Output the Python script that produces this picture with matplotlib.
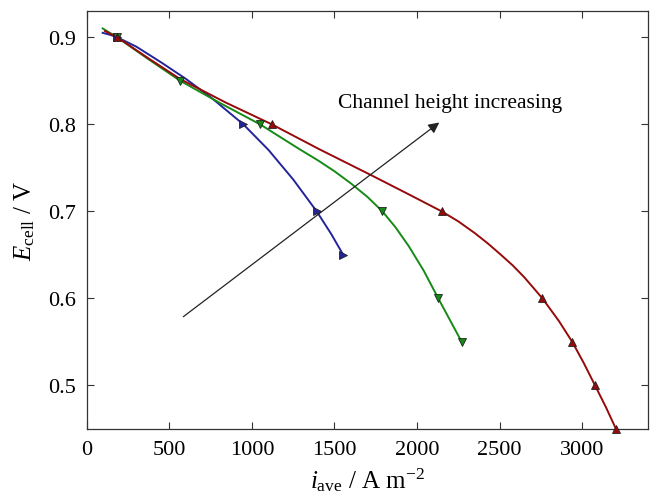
import matplotlib
matplotlib.use("Agg")
import matplotlib.pyplot as plt

plt.rcParams['font.family'] = ['Liberation Serif', 'DejaVu Serif']
plt.rcParams['mathtext.fontset'] = 'custom'
plt.rcParams['mathtext.rm'] = 'Liberation Serif'
plt.rcParams['mathtext.it'] = 'Liberation Serif:italic'

# Curves (current density A m^-2, cell voltage V)
blue_x = [95, 140, 182, 300, 450, 600, 750, 947, 1100, 1250, 1392, 1480, 1553]
blue_y = [0.905, 0.9027, 0.900, 0.889, 0.871, 0.852, 0.831, 0.800, 0.7705, 0.7365, 0.700, 0.674, 0.650]
green_x = [95, 182, 370, 564, 800, 1048, 1291, 1400, 1500, 1600, 1700, 1790, 1870, 1950,
           2040, 2129, 2200, 2271]
green_y = [0.910, 0.900, 0.875, 0.850, 0.825, 0.800, 0.771, 0.7585, 0.746, 0.732, 0.7165,
           0.700, 0.6816, 0.660, 0.6321, 0.600, 0.575, 0.550]
red_x = [109, 182, 370, 564, 840, 1119, 1406, 1733, 1950, 2149, 2250, 2350, 2430, 2503,
         2580, 2650, 2710, 2760, 2860, 2941, 3010, 3079, 3145, 3206]
red_y = [0.907, 0.900, 0.876, 0.852, 0.825, 0.800, 0.7715, 0.7405, 0.7195, 0.700, 0.6885,
         0.675, 0.663, 0.651, 0.6379, 0.6243, 0.6111, 0.600, 0.574, 0.550, 0.526, 0.500,
         0.475, 0.450]

# Marker points
blue_mx = [182, 947, 1392, 1553]
blue_my = [0.90, 0.80, 0.70, 0.65]
green_mx = [182, 564, 1048, 1790, 2129, 2271]
green_my = [0.90, 0.85, 0.80, 0.70, 0.60, 0.55]
red_mx = [182, 1119, 2149, 2760, 2941, 3079, 3206]
red_my = [0.90, 0.80, 0.70, 0.60, 0.55, 0.50, 0.45]

x_ticks = [0, 500, 1000, 1500, 2000, 2500, 3000]
y_ticks = [0.5, 0.6, 0.7, 0.8, 0.9]

c_blue = '#24249a'
c_green = '#168a16'
c_red = '#960a0a'

fig = plt.figure(figsize=(6.52, 5.02), dpi=100)
ax = fig.add_axes([0.1334, 0.1434, 0.8605, 0.8326])

for cx, cy, mx, my, c, m in [(blue_x, blue_y, blue_mx, blue_my, c_blue, '>'),
                             (green_x, green_y, green_mx, green_my, c_green, 'v'),
                             (red_x, red_y, red_mx, red_my, c_red, '^')]:
    ax.plot(cx, cy, color=c, lw=1.4, zorder=2, solid_joinstyle='round')
    ax.plot(mx, my, ls='none', marker=m, ms=6, mfc=c, mec='#222222', mew=0.6,
            zorder=3, clip_on=False)

ax.annotate('', xy=(2135, 0.802), xytext=(584, 0.579),
            arrowprops=dict(arrowstyle='-|>', color='#222222', lw=0.9,
                            mutation_scale=16, shrinkA=0, shrinkB=0))
ax.text(1521, 0.825, 'Channel height increasing', fontsize=15.5,
        va='center', ha='left')

ax.set_xlim(0, 3400)
ax.set_ylim(0.45, 0.93)
ax.set_xticks(x_ticks)
ax.set_yticks(y_ticks)
ax.set_xticklabels([str(v) for v in x_ticks])
ax.set_yticklabels([f'{v:.1f}' for v in y_ticks])
ax.tick_params(direction='in', length=5, width=0.8, top=True, right=True,
               labelsize=16, colors='#333333', labelcolor='black', pad=8)
for s in ax.spines.values():
    s.set_linewidth(0.9)
    s.set_color('#333333')

ax.set_xlabel(r'$i_{\mathrm{ave}}$ / A m$^{-2}$', fontsize=18, labelpad=4)
ax.set_ylabel(r'$E_{\mathrm{cell}}$ / V', fontsize=18, labelpad=8)

fig.savefig('out.png', dpi=100)
